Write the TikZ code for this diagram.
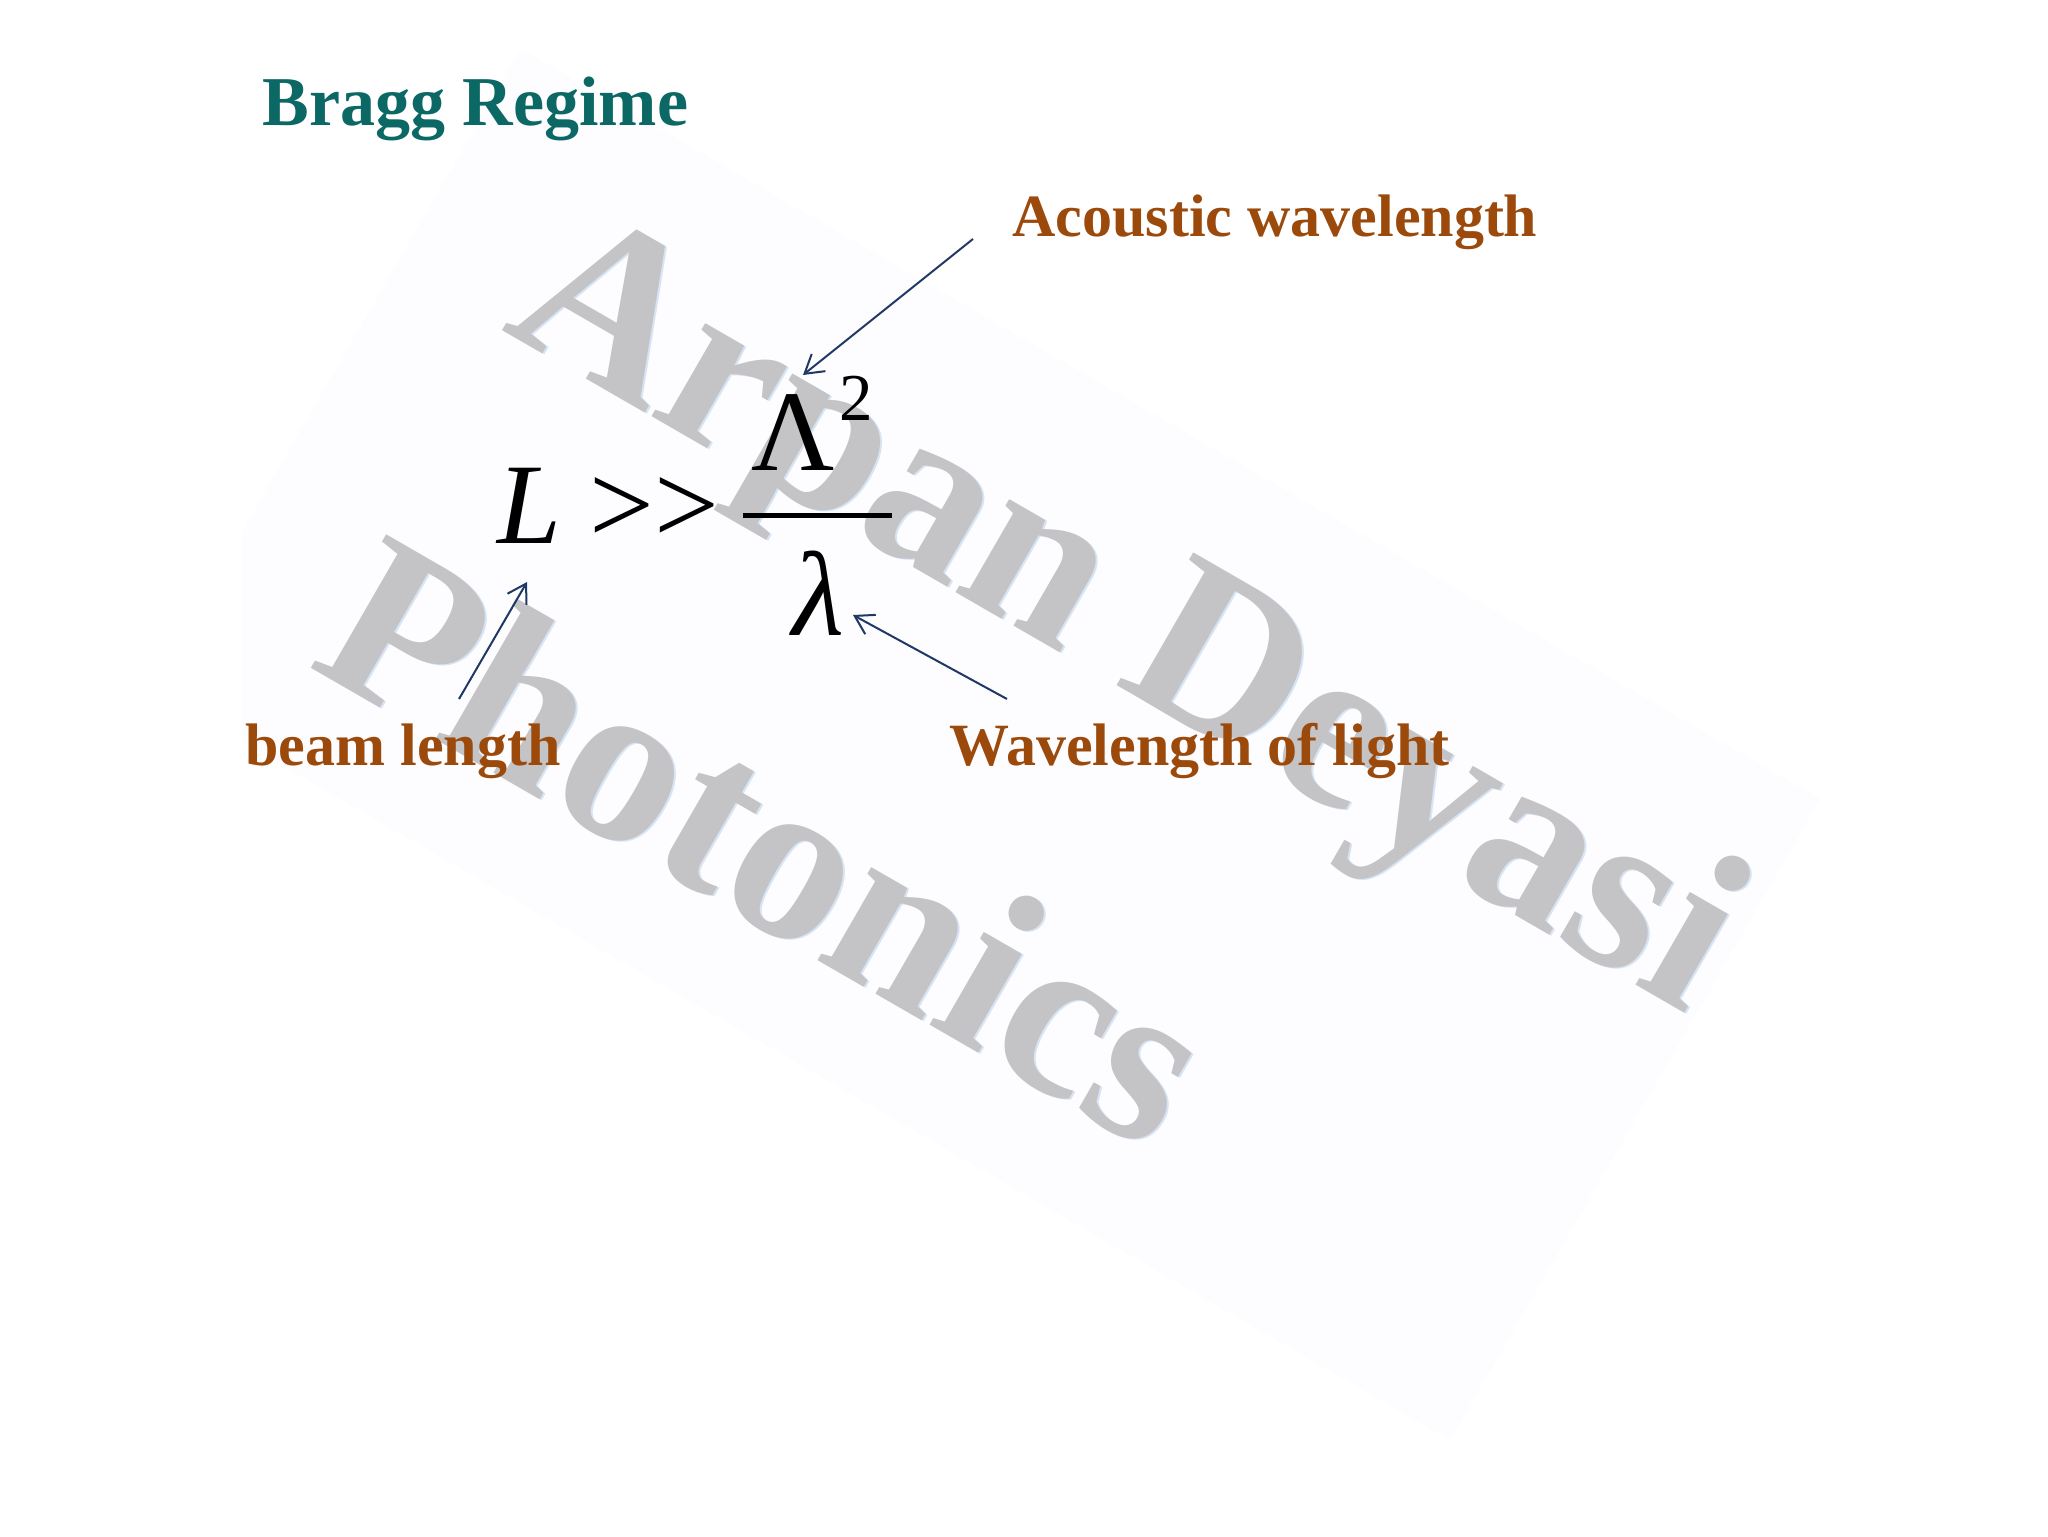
\documentclass[tikz,border=0pt]{standalone}
\usepackage{fontspec}
\setmainfont{Liberation Serif}
\usetikzlibrary{arrows.meta}
\definecolor{titleteal}{RGB}{12,104,100}
\definecolor{labelbrown}{RGB}{156,74,12}
\definecolor{arrownavy}{RGB}{31,56,100}
\definecolor{wmgray}{RGB}{196,196,198}
\definecolor{wmshadow}{RGB}{214,228,244}
\definecolor{wmback}{RGB}{253,253,255}
\tikzset{
  wmtext/.style={inner sep=0pt, anchor=base west, rotate=-30, text=wmgray,
    font=\fontsize{117}{117}\selectfont\bfseries},
  wmshade/.style={wmtext, text=wmshadow},
  lbl/.style={inner sep=0pt, anchor=base west, text=labelbrown,
    font=\fontsize{30}{30}\selectfont\bfseries},
  eq/.style={inner sep=0pt, anchor=base, font=\fontsize{57.5}{57.5}\selectfont},
  eqsup/.style={inner sep=0pt, anchor=base, font=\fontsize{33.5}{33.5}\selectfont},
  ptr/.style={draw=arrownavy, line width=1pt, -{Straight Barb[length=9pt,width=11pt,line width=1pt]}}
}
\begin{document}
\begin{tikzpicture}[x=0.5pt,y=-0.5pt]
\useasboundingbox (0,0) rectangle (2048,1536);
\fill[white] (0,0) rectangle (2048,1536);
% faint watermark background
\fill[wmback] (521,49) -- (1820,799) -- (1450,1440) -- (242,742) -- (242,532) -- cycle;
% watermark
\node[wmshade] (wm1s) at (502,330) {Arpan Deyasi};
\node[wmshade] (wm2s) at (308,666) {Photonics};
\node[wmtext] (wm1) at (500,329) {Arpan Deyasi};
\node[wmtext] (wm2) at (306,665) {Photonics};
% title
\node[inner sep=0pt, anchor=base west, text=titleteal,
  font=\fontsize{35}{35}\selectfont\bfseries] (title) at (262,126) {Bragg Regime};
% labels
\node[lbl] (acoustic) at (1012,236) {Acoustic wavelength};
\node[lbl] (beam) at (245,765) {beam length};
\node[lbl] (wlight) at (949,765) {Wavelength of light};
% equation
\node[eq] (L) at (529,543) {\itshape L};
\node[eq] (gt1) at (622,543) {>};
\node[eq] (gt2) at (687,543) {>};
\node[eq] (Lam) at (793,470) {Λ};
\node[eqsup] (two) at (856,420) {2};
\node[eq, font=\fontsize{60}{60}\selectfont] (lam) at (818,635) {\itshape λ};
\coordinate (barL) at (743,515);
\coordinate (barR) at (892,515);
\draw[line width=2.5pt] (barL) -- (barR);
% arrows
\coordinate (acT) at (973,239);
\coordinate (acH) at (803,375);
\coordinate (bmT) at (459,699);
\coordinate (bmH) at (527,582);
\coordinate (wlT) at (1007,699);
\coordinate (wlH) at (853,615);
\draw[ptr] (acT) -- (acH);
\draw[ptr] (bmT) -- (bmH);
\draw[ptr] (wlT) -- (wlH);
\end{tikzpicture}
\end{document}
